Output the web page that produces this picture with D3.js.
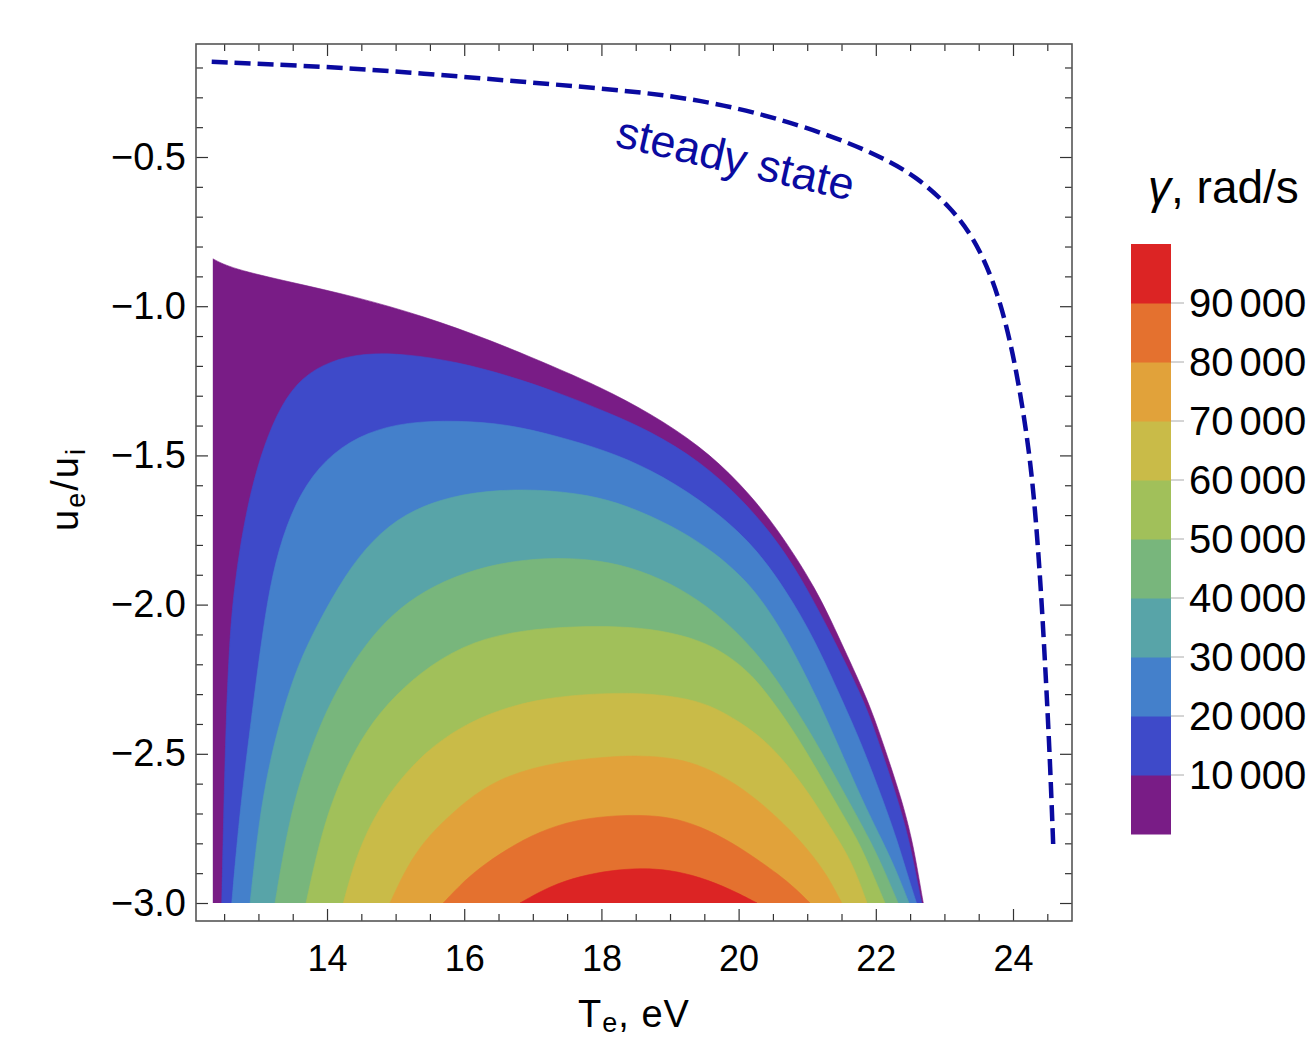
<!DOCTYPE html>
<html><head><meta charset="utf-8">
<script src="https://cdn.jsdelivr.net/npm/d3@7"></script>
<style>
body{margin:0;background:#fff}
svg{display:block}
text{font-family:"Liberation Sans",Arial,Helvetica,sans-serif}
</style>
</head><body>
<svg id="chart" width="1311" height="1043"></svg>
<script>
// ---------- data (T_e in eV, u_e/u_i) ----------
const levels = [0,10000,20000,30000,40000,50000,60000,70000,80000,90000];
const gammaMax = 100000;
const levelColors = ["#791c86","#3e4ac9","#4480cb","#58a4a8","#78b67c","#a1c05a","#c9bb48","#e1a23a","#e4712f","#dc2424"];
const barTicks = [10000,20000,30000,40000,50000,60000,70000,80000,90000];
const xTicks = [14,16,18,20,22,24];
const yTicks = [-3.0,-2.5,-2.0,-1.5,-1.0,-0.5];

// contour lines gamma = level
const contour0 = [[12.334,-0.841],[12.611,-0.874],[13.461,-0.919],[14.433,-0.969],[15.399,-1.033],[16.376,-1.113],[17.348,-1.207],[17.980,-1.271],[18.708,-1.358],[19.437,-1.468],[20.020,-1.592],[20.555,-1.740],[21.143,-1.951],[21.478,-2.119],[21.886,-2.320],[22.090,-2.454],[22.382,-2.655],[22.528,-2.789],[22.608,-2.889],[22.692,-3.0]];
const contour10k = [[12.465,-3.0],[12.491,-2.722],[12.528,-2.387],[12.579,-2.119],[12.644,-1.951],[12.746,-1.784],[12.892,-1.616],[13.082,-1.465],[13.329,-1.331],[13.636,-1.237],[14.044,-1.184],[14.525,-1.157],[15.166,-1.160],[15.895,-1.187],[16.624,-1.231],[17.353,-1.288],[18.082,-1.355],[18.708,-1.418],[19.437,-1.519],[20.064,-1.649],[20.603,-1.797],[21.012,-1.951],[21.391,-2.119],[21.828,-2.320],[22.032,-2.454],[22.324,-2.655],[22.484,-2.789],[22.571,-2.889],[22.669,-3.0]];
const contour20k = [[12.611,-3.0],[12.717,-2.722],[12.834,-2.497],[12.950,-2.286],[13.067,-2.085],[13.198,-1.901],[13.402,-1.733],[13.694,-1.592],[14.087,-1.489],[14.583,-1.422],[15.166,-1.388],[15.895,-1.383],[16.624,-1.395],[17.353,-1.435],[18.082,-1.485],[18.708,-1.546],[19.437,-1.646],[20.166,-1.784],[20.691,-1.951],[21.114,-2.119],[21.507,-2.320],[21.770,-2.454],[22.105,-2.655],[22.309,-2.789],[22.440,-2.889],[22.593,-3.0]];
const contour30k = [[12.878,-3.0],[13.009,-2.722],[13.169,-2.521],[13.359,-2.353],[13.577,-2.202],[13.854,-2.068],[14.262,-1.901],[14.656,-1.784],[15.137,-1.693],[15.793,-1.636],[16.522,-1.614],[17.251,-1.616],[17.980,-1.639],[18.563,-1.686],[19.146,-1.750],[19.656,-1.827],[20.020,-1.901],[20.312,-1.975],[20.720,-2.119],[21.157,-2.320],[21.420,-2.454],[21.799,-2.655],[22.090,-2.789],[22.294,-2.889],[22.484,-3.0]];
const contour40k = [[13.242,-3.0],[13.446,-2.722],[13.679,-2.538],[13.927,-2.387],[14.219,-2.253],[14.554,-2.135],[14.948,-2.032],[15.429,-1.951],[16.012,-1.891],[16.668,-1.854],[17.338,-1.842],[17.980,-1.851],[18.563,-1.884],[19.146,-1.944],[19.656,-2.025],[20.093,-2.119],[20.458,-2.219],[20.749,-2.320],[21.114,-2.454],[21.595,-2.655],[21.915,-2.789],[22.120,-2.889],[22.324,-3.0]];
const contour50k = [[13.694,-3.0],[13.927,-2.755],[14.219,-2.571],[14.569,-2.420],[14.991,-2.303],[15.501,-2.202],[16.128,-2.122],[16.857,-2.085],[17.615,-2.073],[18.271,-2.073],[18.854,-2.085],[19.437,-2.119],[19.845,-2.169],[20.195,-2.236],[20.487,-2.320],[20.895,-2.454],[21.391,-2.655],[21.741,-2.789],[21.930,-2.889],[22.134,-3.0]];
const contour60k = [[14.238,-3.0],[14.408,-2.856],[14.656,-2.722],[14.991,-2.605],[15.429,-2.494],[15.939,-2.410],[16.522,-2.350],[17.178,-2.313],[17.907,-2.298],[18.563,-2.296],[19.146,-2.310],[19.583,-2.336],[20.020,-2.393],[20.414,-2.460],[20.749,-2.548],[21.041,-2.638],[21.289,-2.729],[21.507,-2.806],[21.697,-2.889],[21.872,-3.0]];
const contour70k = [[14.918,-3.0],[15.162,-2.879],[15.429,-2.789],[15.749,-2.715],[16.128,-2.638],[16.624,-2.571],[17.353,-2.527],[18.125,-2.509],[18.563,-2.506],[19.073,-2.514],[19.510,-2.544],[19.948,-2.598],[20.385,-2.675],[20.749,-2.755],[21.041,-2.829],[21.289,-2.906],[21.503,-3.0]];
const contour80k = [[15.695,-3.0],[15.939,-2.940],[16.201,-2.886],[16.620,-2.819],[17.105,-2.759],[17.615,-2.722],[18.125,-2.708],[18.563,-2.705],[19.000,-2.712],[19.437,-2.742],[19.918,-2.799],[20.283,-2.856],[20.574,-2.903],[20.822,-2.950],[21.041,-3.0]];
const contour90k = [[16.813,-3.0],[17.251,-2.943],[17.688,-2.910],[18.125,-2.891],[18.563,-2.883],[19.000,-2.889],[19.437,-2.913],[19.875,-2.953],[20.268,-3.0]];
const contours = [contour0,contour10k,contour20k,contour30k,contour40k,contour50k,contour60k,contour70k,contour80k,contour90k];

// steady state curve
const steadyT = [12.319,13.996,15.404,16.862,17.980,18.952,19.923,20.895,21.624,22.109,22.596,23.082,23.421,23.713,23.927,24.102,24.248,24.335,24.408,24.481,24.539,24.587];
const steadyU = [-0.181,-0.197,-0.220,-0.248,-0.270,-0.292,-0.331,-0.393,-0.454,-0.504,-0.566,-0.667,-0.767,-0.912,-1.080,-1.281,-1.505,-1.716,-1.951,-2.253,-2.521,-2.811];

// ---------- layout ----------
const frame = {left:196, right:1072, top:44, bottom:921};
const xDomain = [12.090, 24.860];
const yDomain = [-3.0603, -0.1213];
const dataMinT = contour0[0][0];

const svg = d3.select("#chart");
const x = d3.scaleLinear().domain(xDomain).range([frame.left, frame.right]);
const y = d3.scaleLinear().domain(yDomain).range([frame.bottom, frame.top]);

svg.append("defs").append("clipPath").attr("id","clipData")
  .append("rect")
  .attr("x", x(dataMinT)).attr("y", frame.top)
  .attr("width", frame.right - x(dataMinT)).attr("height", y(-3.0) - frame.top);

const gC = svg.append("g").attr("clip-path","url(#clipData)");
const line = d3.line().x(d=>x(d[0])).y(d=>y(d[1])).curve(d3.curveBasis);
contours.forEach((c,i)=>{
  let d = line(c);
  if(i===0){
    d += `L${x(c[0][0])},${y(-3.0)}Z`;
  } else {
    d += "Z";
  }
  gC.append("path").attr("d", d).attr("fill", levelColors[i]).attr("stroke", levelColors[i]).attr("stroke-width",0.6);
});

// steady state dashed line
const steady = steadyT.map((t,i)=>[t, steadyU[i]]);
svg.append("path").attr("d", line(steady))
  .attr("fill","none").attr("stroke","#0a0aa0").attr("stroke-width",4.5)
  .attr("stroke-dasharray","16,7");

svg.append("text").attr("transform","translate(614,146) rotate(13)")
  .attr("font-size",45).attr("fill","#0a0aa0").text("steady state");

// ---------- frame and ticks ----------
const fmtY = d => d.toFixed(1).replace("-","\u2212");
const minorX = d3.range(12.5, 24.86, 0.5).filter(v=>Math.abs(v/2-Math.round(v/2))>1e-6);
const minorY = d3.range(-3.0, -0.12, 0.1).map(v=>+v.toFixed(1)).filter(v=>Math.abs(v*2-Math.round(v*2))>1e-6);

function styleAxis(g){ g.select(".domain").remove(); g.selectAll(".tick line").attr("stroke","#333").attr("stroke-width",1.2); }

svg.append("g").attr("transform",`translate(0,${frame.bottom})`)
  .call(d3.axisBottom(x).tickValues(xTicks).tickSize(-12).tickSizeOuter(0).tickPadding(24).tickFormat(d3.format("d")))
  .call(styleAxis)
  .call(g=>g.selectAll("text").attr("font-size",36).attr("fill","#000").attr("font-family","Liberation Sans, Arial, sans-serif"));
svg.append("g").attr("transform",`translate(0,${frame.bottom})`)
  .call(d3.axisBottom(x).tickValues(minorX).tickSize(-7).tickSizeOuter(0).tickFormat(""))
  .call(styleAxis);
svg.append("g").attr("transform",`translate(0,${frame.top})`)
  .call(d3.axisTop(x).tickValues(xTicks).tickSize(-12).tickSizeOuter(0).tickFormat(""))
  .call(styleAxis);
svg.append("g").attr("transform",`translate(0,${frame.top})`)
  .call(d3.axisTop(x).tickValues(minorX).tickSize(-7).tickSizeOuter(0).tickFormat(""))
  .call(styleAxis);
svg.append("g").attr("transform",`translate(${frame.left},0)`)
  .call(d3.axisLeft(y).tickValues(yTicks).tickSize(-12).tickSizeOuter(0).tickPadding(10).tickFormat(fmtY))
  .call(styleAxis)
  .call(g=>g.selectAll("text").attr("font-size",38).attr("fill","#000").attr("font-family","Liberation Sans, Arial, sans-serif"));
svg.append("g").attr("transform",`translate(${frame.left},0)`)
  .call(d3.axisLeft(y).tickValues(minorY).tickSize(-7).tickSizeOuter(0).tickFormat(""))
  .call(styleAxis);
svg.append("g").attr("transform",`translate(${frame.right},0)`)
  .call(d3.axisRight(y).tickValues(yTicks).tickSize(-12).tickSizeOuter(0).tickFormat(""))
  .call(styleAxis);
svg.append("g").attr("transform",`translate(${frame.right},0)`)
  .call(d3.axisRight(y).tickValues(minorY).tickSize(-7).tickSizeOuter(0).tickFormat(""))
  .call(styleAxis);

svg.append("rect").attr("x",frame.left).attr("y",frame.top)
  .attr("width",frame.right-frame.left).attr("height",frame.bottom-frame.top)
  .attr("fill","none").attr("stroke","#555").attr("stroke-width",1.6);

// axis titles
const yt = svg.append("text").attr("transform","translate(78,489) rotate(-90)")
  .attr("text-anchor","middle").attr("font-size",38).attr("letter-spacing",2).attr("fill","#000");
yt.append("tspan").text("u");
yt.append("tspan").attr("font-size",27).attr("dy",7).text("e");
yt.append("tspan").attr("dy",-7).text("/u");
yt.append("tspan").attr("font-size",27).attr("dy",7).text("i");

const xt = svg.append("text").attr("x",634).attr("y",1027)
  .attr("text-anchor","middle").attr("font-size",38).attr("letter-spacing",1).attr("fill","#000");
xt.append("tspan").text("T");
xt.append("tspan").attr("font-size",27).attr("dy",5).text("e");
xt.append("tspan").attr("dy",-5).text(", eV");

// ---------- colour bar ----------
const bar = {x:1131, w:40, top:244, bottom:834};
const yb = d3.scaleLinear().domain([0,gammaMax]).range([bar.bottom, bar.top]);
const gB = svg.append("g");
levels.forEach((lv,i)=>{
  const hi = i < levels.length-1 ? levels[i+1] : gammaMax;
  gB.append("rect").attr("x",bar.x).attr("width",bar.w)
    .attr("y",yb(hi)).attr("height",yb(lv)-yb(hi)+0.5)
    .attr("fill",levelColors[i]);
});
barTicks.forEach(t=>{
  gB.append("line").attr("x1",bar.x+bar.w).attr("x2",bar.x+bar.w+13)
    .attr("y1",yb(t)).attr("y2",yb(t)).attr("stroke","#aaa").attr("stroke-width",1);
  const lab = gB.append("text").attr("x",bar.x+bar.w+18).attr("y",yb(t)).attr("dy","0.36em")
    .attr("font-size",40).attr("fill","#000");
  const s = String(t);
  lab.append("tspan").text(s.slice(0,s.length-3));
  lab.append("tspan").attr("dx",6).text(s.slice(-3));
});
const title = svg.append("text").attr("x",1148).attr("y",203).attr("font-size",46).attr("fill","#000");
title.append("tspan").attr("font-style","italic").text("\u03b3");
title.append("tspan").text(", rad/s");
</script>
</body></html>
